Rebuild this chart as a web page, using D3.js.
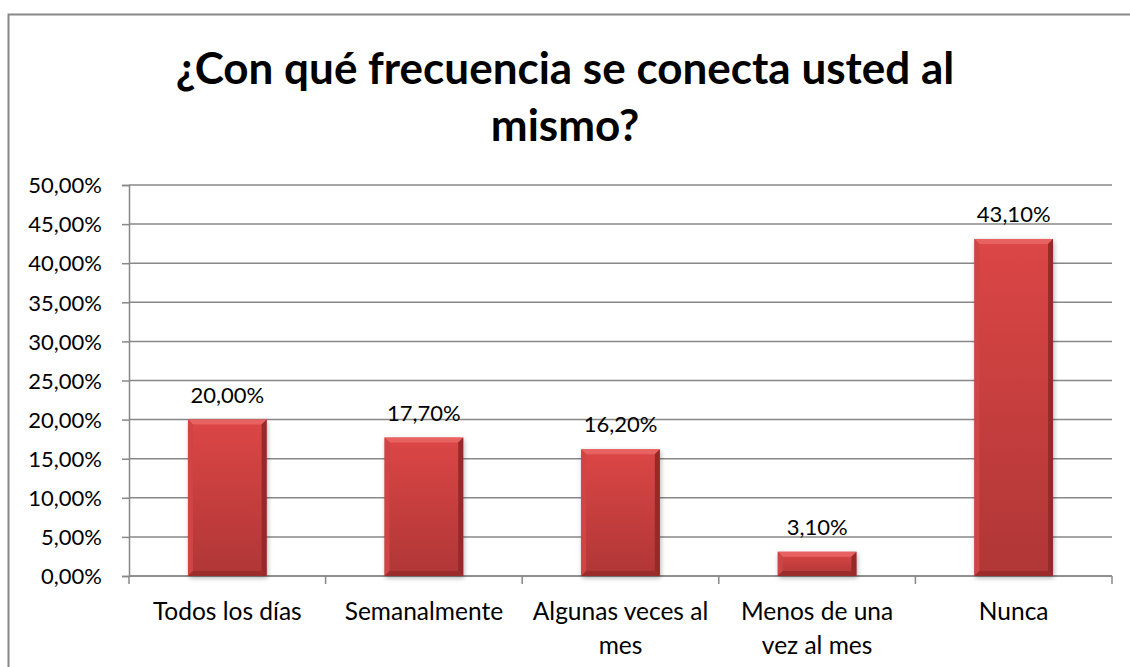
<html>
<head>
<style>
  body { margin: 0; background: #fff; }
  text { font-family: Lato, "Open Sans", sans-serif; fill: #000; }
</style>
</head>
<body>
<svg id="chart" width="1130" height="667"></svg>
<script src="https://d3js.org/d3.v7.min.js"></script>
<script>
// data
let categories = ["Todos los días", "Semanalmente", "Algunas veces al mes", "Menos de una vez al mes", "Nunca"]
let catLines = [["Todos los días"], ["Semanalmente"], ["Algunas veces al", "mes"], ["Menos de una", "vez al mes"], ["Nunca"]]
let values = [20.0, 17.7, 16.2, 3.1, 43.1]
let yTicks = [0, 5, 10, 15, 20, 25, 30, 35, 40, 45, 50]
let titleLines = ["¿Con qué frecuencia se conecta usted al", "mismo?"]

let svg = d3.select("#chart")
let fmt = v => v.toFixed(2).replace(".", ",") + "%"

// outer chart border (runs off the page right and bottom)
svg.append("rect")
    .attr("x", 8.5).attr("y", 14.5)
    .attr("width", 1200).attr("height", 700)
    .attr("fill", "none").attr("stroke", "#888").attr("stroke-width", 2)

let plotLeft = 129, plotRight = 1112, plotTop = 185, plotBottom = 576

let x = d3.scaleBand().domain(categories).range([plotLeft, plotRight]).paddingInner(0.6).paddingOuter(0.3)
let y = d3.scaleLinear().domain([0, 50]).range([plotBottom, plotTop])

// title
svg.append("text")
    .attr("x", 565).attr("text-anchor", "middle")
    .style("font-weight", "bold").style("font-size", "44px")
    .selectAll("tspan").data(titleLines).enter().append("tspan")
    .attr("x", 565).attr("y", (d, i) => 84 + i * 57)
    .text(d => d)

// gridlines
svg.append("g").selectAll("line").data(yTicks).enter().append("line")
    .attr("x1", plotLeft).attr("x2", plotRight)
    .attr("y1", d => y(d)).attr("y2", d => y(d))
    .attr("stroke", "#888").attr("stroke-width", 1.5)

// y axis
let yAxis = svg.append("g")
    .attr("transform", `translate(${plotLeft},0)`)
    .call(d3.axisLeft(y).tickValues(yTicks).tickSize(7).tickPadding(20).tickFormat(fmt))
yAxis.select(".domain").attr("stroke", "#888").attr("stroke-width", 1.5)
yAxis.selectAll(".tick line").attr("stroke", "#888").attr("stroke-width", 1.5)
yAxis.selectAll(".tick text").style("font-size", "22px").attr("dy", "0.35em")

// x axis line + boundary ticks
let bandStep = (plotRight - plotLeft) / categories.length
let bounds = d3.range(categories.length + 1).map(i => plotLeft + i * bandStep)
svg.append("line").attr("x1", plotLeft).attr("x2", plotRight).attr("y1", plotBottom).attr("y2", plotBottom)
    .attr("stroke", "#888").attr("stroke-width", 1.5)
svg.append("g").selectAll("line").data(bounds).enter().append("line")
    .attr("x1", d => d).attr("x2", d => d).attr("y1", plotBottom).attr("y2", plotBottom + 8)
    .attr("stroke", "#888").attr("stroke-width", 1.5)

// gradients for bars
let defs = svg.append("defs")
let g1 = defs.append("linearGradient").attr("id", "barGrad").attr("x1", 0).attr("y1", 0).attr("x2", 0).attr("y2", 1)
g1.append("stop").attr("offset", "0%").attr("stop-color", "#dc4646")
g1.append("stop").attr("offset", "100%").attr("stop-color", "#b03636")
let blur = defs.append("filter").attr("id", "shadow").attr("x", "-20%").attr("y", "-20%").attr("width", "140%").attr("height", "140%")
blur.append("feGaussianBlur").attr("stdDeviation", 2.5)

let bars = svg.append("g").selectAll("g").data(categories).enter().append("g")
let bev = 5

// shadow
bars.append("rect")
    .attr("x", d => x(d) + 1).attr("y", (d, i) => y(values[i]) + 2)
    .attr("width", x.bandwidth()).attr("height", (d, i) => plotBottom - y(values[i]))
    .attr("fill", "#000").attr("opacity", 0.3).attr("filter", "url(#shadow)")

bars.append("rect")
    .attr("x", d => x(d)).attr("y", (d, i) => y(values[i]))
    .attr("width", x.bandwidth()).attr("height", (d, i) => plotBottom - y(values[i]))
    .attr("fill", "url(#barGrad)")

// bevel edges
function bevel(d, i, side) {
    let x0 = x(d), x1 = x(d) + x.bandwidth(), y0 = y(values[i]), y1 = plotBottom
    let b = Math.min(bev, (y1 - y0) / 2)
    if (side == "top") return [[x0, y0], [x1, y0], [x1 - b, y0 + b], [x0 + b, y0 + b]]
    if (side == "left") return [[x0, y0], [x0 + b, y0 + b], [x0 + b, y1 - b], [x0, y1]]
    if (side == "right") return [[x1, y0], [x1, y1], [x1 - b, y1 - b], [x1 - b, y0 + b]]
    return [[x0, y1], [x0 + b, y1 - b], [x1 - b, y1 - b], [x1, y1]]
}
let sides = [["top", "#e86262"], ["left", "#cf4444"], ["right", "#962a2a"], ["bottom", "#9a2c2c"]]
sides.forEach(s => {
    bars.append("polygon")
        .attr("points", (d, i) => bevel(d, i, s[0]).join(" "))
        .attr("fill", s[1])
})

// value labels
bars.append("text")
    .attr("x", d => x(d) + x.bandwidth() / 2)
    .attr("y", (d, i) => y(values[i]) - 17)
    .attr("text-anchor", "middle").style("font-size", "22px")
    .text((d, i) => fmt(values[i]))

// category labels
let catG = svg.append("g").selectAll("text").data(categories).enter().append("text")
    .attr("text-anchor", "middle").style("font-size", "24.5px")
catG.selectAll("tspan").data((d, i) => catLines[i].map(t => ({ t: t, c: d }))).enter().append("tspan")
    .attr("x", d => x(d.c) + x.bandwidth() / 2)
    .attr("y", (d, j) => 620 + j * 34)
    .text(d => d.t)
</script>
</body>
</html>
